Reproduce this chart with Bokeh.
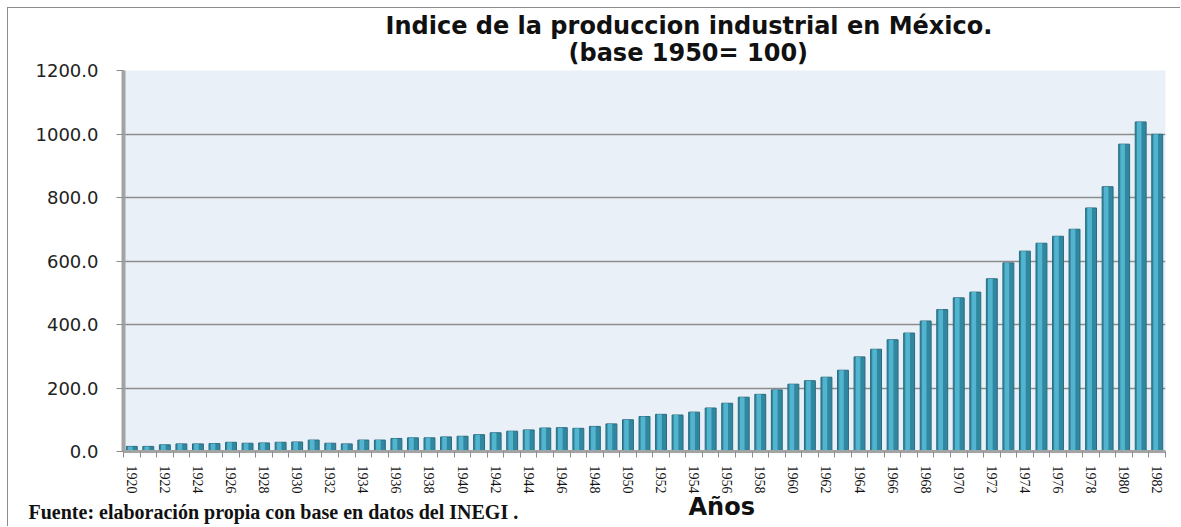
from bokeh.plotting import figure
from bokeh.models import (ColumnDataSource, FixedTicker, NumeralTickFormatter, Title, Range1d)
from bokeh.transform import dodge
from bokeh.embed import file_html
from bokeh.resources import INLINE

years = list(range(1920, 1983))
index_values = [16, 16, 21, 24, 24, 25, 29, 26, 27, 29,
                30, 36, 26, 24, 36, 36, 41, 43, 43, 46,
                48, 53, 59, 64, 68, 74, 75, 73, 79, 87,
                100, 110, 117, 115, 124, 137, 152, 171, 180, 194,
                212, 223, 234, 256, 298, 322, 352, 373, 411, 447,
                484, 502, 544, 594, 631, 656, 678, 700, 767, 834,
                968, 1038, 999]
y_ticks = [0, 200, 400, 600, 800, 1000, 1200]
x_label_years = [y for y in years if y % 2 == 0]

title_line1 = "Indice de la produccion industrial en México."
title_line2 = "(base 1950= 100)"
x_title = "Años"
source_note = "Fuente: elaboración propia con base en  datos del INEGI ."

src = ColumnDataSource(dict(year=years, value=index_values))

p = figure(width=1173, height=519, output_backend="svg", toolbar_location=None,
           x_range=Range1d(years[0] - 0.5, years[-1] + 0.5),
           y_range=Range1d(0, 1200),
           min_border_left=115, min_border_right=16,
           min_border_top=62, min_border_bottom=76,
           background_fill_color="#e9f0f7", border_fill_color="white")
p.margin = (7, 0, 0, 7)
p.styles = {"border-top": "1px solid #8c8c8c", "border-left": "1px solid #8c8c8c"}
p.outline_line_color = None

# bars (cylinder-like look)
p.vbar(x="year", top="value", width=0.66, bottom=0, source=src,
       fill_color="#3088a0", line_color="#2a6b7e", line_width=1)
p.vbar(x=dodge("year", -0.09), top="value", width=0.28, bottom=0, source=src,
       fill_color="#52b4ce", line_color=None)

# grid
p.xgrid.grid_line_color = None
p.ygrid.ticker = FixedTicker(ticks=y_ticks)
p.ygrid.grid_line_color = "#8c8c8c"
p.ygrid.grid_line_width = 1.5

# y axis
p.yaxis.ticker = FixedTicker(ticks=y_ticks)
p.yaxis.formatter = NumeralTickFormatter(format="0.0")
p.yaxis.axis_line_color = "#a3a3a3"
p.yaxis.axis_line_width = 4
p.yaxis.major_tick_line_color = "#8c8c8c"
p.yaxis.major_tick_out = 7
p.yaxis.major_tick_in = 0
p.yaxis.minor_tick_line_color = None
p.yaxis.major_label_standoff = 18
p.yaxis.major_label_text_font = "DejaVu Sans"
p.yaxis.major_label_text_font_size = "18px"
p.yaxis.major_label_text_color = "#222222"

# x axis
p.xaxis.ticker = FixedTicker(ticks=x_label_years,
                             minor_ticks=[y - 0.5 for y in years] + [years[-1] + 0.5])
p.xaxis.axis_line_color = "#a3a3a3"
p.xaxis.axis_line_width = 3
p.xaxis.major_tick_line_color = None
p.xaxis.minor_tick_line_color = "#8c8c8c"
p.xaxis.minor_tick_out = 6
p.xaxis.minor_tick_in = 0
p.xaxis.major_label_orientation = "vertical"
p.xaxis.major_label_standoff = 8
p.xaxis.major_label_text_font = "Liberation Serif"
p.xaxis.major_label_text_font_size = "14px"
p.xaxis.major_label_text_color = "#111111"

# titles (nearest panel first)
p.add_layout(Title(text=title_line2, align="left", offset=445, standoff=8,
                   vertical_align="bottom", text_font="DejaVu Sans",
                   text_font_style="bold", text_font_size="24px",
                   text_color="#111111"), "above")
p.add_layout(Title(text=title_line1, align="left", offset=262, standoff=-14,
                   vertical_align="bottom", text_font="DejaVu Sans",
                   text_font_style="bold", text_font_size="24px",
                   text_color="#111111"), "above")

p.add_layout(Title(text=x_title, align="left", offset=565, standoff=-12,
                   vertical_align="bottom", text_font="DejaVu Sans",
                   text_font_style="bold", text_font_size="24px",
                   text_color="#111111"), "below")
p.add_layout(Title(text=source_note, align="left", offset=-95, standoff=-28,
                   vertical_align="top", text_font="Liberation Serif",
                   text_font_style="bold", text_font_size="20px",
                   text_color="#111111"), "below")

open("out.html", "w").write(file_html(p, INLINE))
